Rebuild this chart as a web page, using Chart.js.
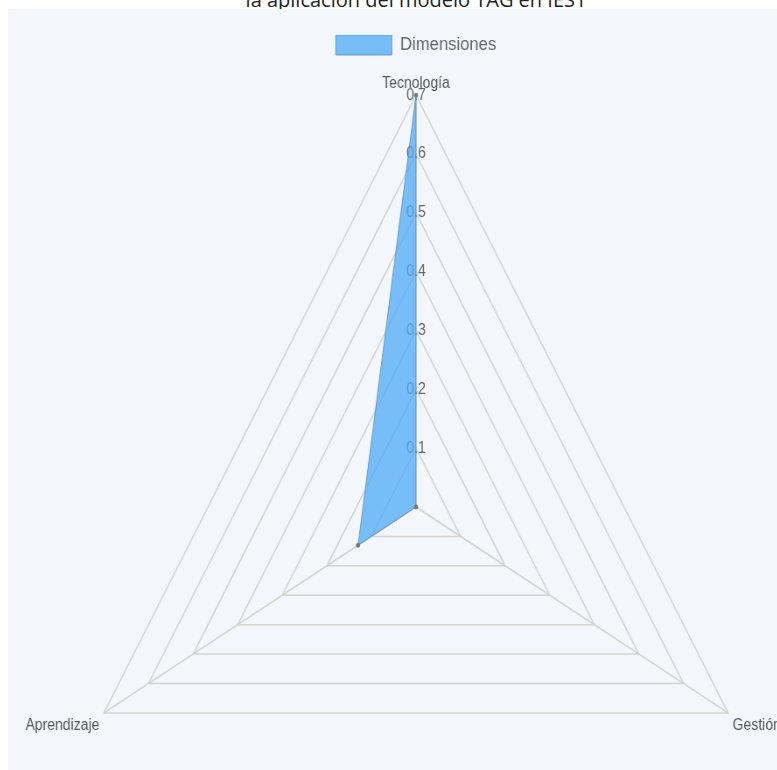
<!DOCTYPE html>
<html>
<head>
<meta charset="utf-8">
<script src="https://cdn.jsdelivr.net/npm/chart.js@4/dist/chart.umd.min.js"></script>
<style>
    html, body { margin: 0; padding: 0; background: #ffffff; overflow: hidden; width: 777px; height: 770px; }
    .title {
        position: absolute; left: 0; width: 832px; top: -14px;
        text-align: center; font: 20px "Open Sans", "Noto Sans", sans-serif; color: #222;
        white-space: nowrap;
    }
    .panel { position: absolute; left: 8px; top: 9px; width: 769px; height: 761px; background: #f3f6fa; }
    .wrap {
        position: absolute; left: 10px; top: 9px; width: 928px; height: 922px;
        transform: scaleX(0.875); transform-origin: 0 0;
    }
</style>
</head>
<body>
<div class="title">la aplicación del modelo TAG en IES1</div>
<div class="panel"></div>
<div class="wrap"><canvas id="radarChart" width="928" height="922"></canvas></div>
<script>
    // ===== DATA =====
    const categories = ['Tecnología', 'Gestión', 'Aprendizaje'];
    const seriesLabel = 'Dimensiones';
    const seriesValues = [0.7, 0, 0.13];
    const tickStep = 0.1;
    const tickMax = 0.7;

    // ===== RADAR CHART =====
    (function() {
        'use strict';

        const canvas = document.getElementById('radarChart');
        const ctx = canvas.getContext('2d');

        Chart.defaults.font.family = '"Liberation Sans", Arial, sans-serif';

        new Chart(ctx, {
            type: 'radar',
            data: {
                labels: categories,
                datasets: [{
                    label: seriesLabel,
                    data: seriesValues,
                    backgroundColor: 'rgba(77, 170, 245, 0.75)',
                    borderColor: 'rgba(90, 140, 190, 0.8)',
                    borderWidth: 1,
                    pointRadius: 2,
                    pointBackgroundColor: '#777',
                    pointBorderColor: '#777',
                    pointBorderWidth: 1
                }]
            },
            options: {
                responsive: false,
                animation: false,
                devicePixelRatio: 1,
                layout: {
                    padding: { top: 26 }
                },
                plugins: {
                    legend: {
                        display: true,
                        position: 'top',
                        labels: {
                            boxWidth: 64,
                            boxHeight: 20,
                            padding: 0,
                            color: '#666',
                            font: { size: 19 }
                        }
                    },
                    tooltip: { enabled: false }
                },
                scales: {
                    r: {
                        min: 0,
                        max: tickMax,
                        angleLines: { color: '#d2d2d2', lineWidth: 1.5 },
                        grid: { color: '#d2d2d2', lineWidth: 1.5 },
                        pointLabels: {
                            color: '#555',
                            // top label tight, bottom ones a bit further out
                            padding: (c) => (c.index === 0 ? 0 : 4),
                            font: { size: 16 }
                        },
                        ticks: {
                            stepSize: tickStep,
                            color: '#666',
                            showLabelBackdrop: false,
                            // tight padding so the top label sits close under the legend
                            backdropPadding: -6,
                            font: { size: 16 }
                        }
                    }
                }
            }
        });
    })();
</script>
</body>
</html>
